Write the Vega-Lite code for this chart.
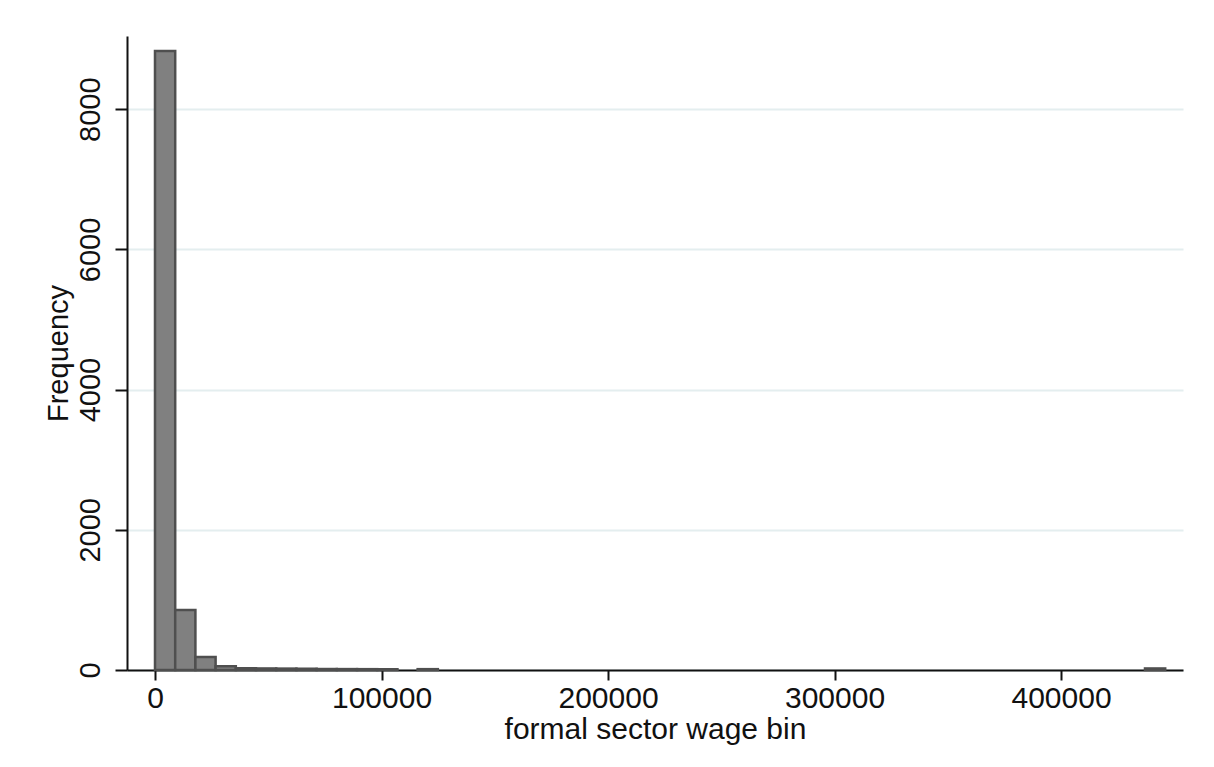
{
  "$schema": "https://vega.github.io/schema/vega-lite/v6.json",
  "width": 1056,
  "height": 634,
  "autosize": {"type": "none"},
  "padding": {"left": 127, "top": 36, "right": 31, "bottom": 97},
  "background": "white",
  "config": {
    "view": {"stroke": null},
    "font": "Liberation Sans",
    "axis": {
      "labelFont": "Liberation Sans",
      "titleFont": "Liberation Sans",
      "labelColor": "#111",
      "titleColor": "#111",
      "titleFontWeight": "normal",
      "domainColor": "#111",
      "domainWidth": 2,
      "tickColor": "#111",
      "tickWidth": 2
    }
  },
  "data": {
    "values": [
      {"bin_start": 0, "bin_end": 8920, "count": 8830},
      {"bin_start": 8920, "bin_end": 17840, "count": 855},
      {"bin_start": 17840, "bin_end": 26760, "count": 185},
      {"bin_start": 26760, "bin_end": 35680, "count": 55},
      {"bin_start": 35680, "bin_end": 44600, "count": 25},
      {"bin_start": 44600, "bin_end": 53520, "count": 22},
      {"bin_start": 53520, "bin_end": 62440, "count": 20},
      {"bin_start": 62440, "bin_end": 71360, "count": 18},
      {"bin_start": 71360, "bin_end": 80280, "count": 14},
      {"bin_start": 80280, "bin_end": 89200, "count": 13},
      {"bin_start": 89200, "bin_end": 98120, "count": 12},
      {"bin_start": 98120, "bin_end": 107040, "count": 10},
      {"bin_start": 115960, "bin_end": 124880, "count": 12},
      {"bin_start": 437080, "bin_end": 446000, "count": 22}
    ]
  },
  "mark": {"type": "bar", "fill": "#808080", "stroke": "#4f4f4f", "strokeWidth": 2.5},
  "encoding": {
    "x": {
      "field": "bin_start",
      "type": "quantitative",
      "scale": {"domain": [-12362, 453863], "nice": false, "zero": false},
      "axis": {
        "title": "formal sector wage bin",
        "values": [0, 100000, 200000, 300000, 400000],
        "format": "d",
        "grid": false,
        "labelFontSize": 30,
        "titleFontSize": 30,
        "tickSize": 10,
        "labelPadding": 3,
        "titlePadding": 1,
        "labelFlush": false
      }
    },
    "x2": {"field": "bin_end"},
    "y": {
      "field": "count",
      "type": "quantitative",
      "scale": {"domain": [0, 9044], "nice": false},
      "axis": {
        "title": "Frequency",
        "values": [0, 2000, 4000, 6000, 8000],
        "format": "d",
        "grid": true,
        "gridColor": "#e4eeef",
        "gridWidth": 2,
        "labelAngle": -90,
        "labelAlign": "center",
        "labelBaseline": "bottom",
        "labelFontSize": 29,
        "titleFontSize": 29,
        "tickSize": 12,
        "labelPadding": 10,
        "titlePadding": 3,
        "labelFlush": false
      }
    },
    "y2": {"datum": 0}
  }
}
